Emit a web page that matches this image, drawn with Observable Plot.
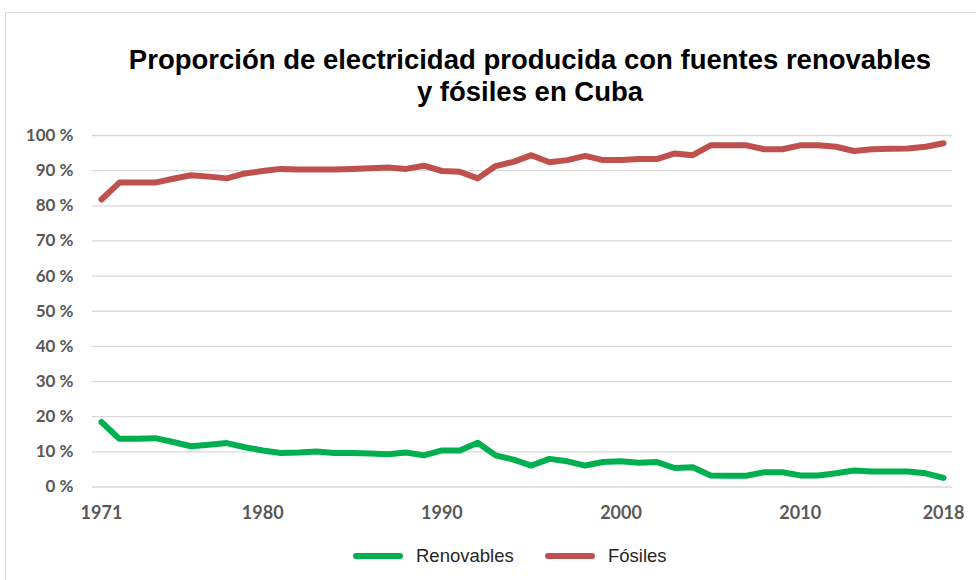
<!DOCTYPE html>
<html>
<head>
<meta charset="utf-8">
<script src="https://cdn.jsdelivr.net/npm/d3@7"></script>
<script src="https://cdn.jsdelivr.net/npm/@observablehq/plot@0.6"></script>
<style>
  html, body { margin: 0; padding: 0; background: #fff; }
  #wrap { position: relative; width: 976px; height: 580px; overflow: hidden; background: #fff; }
  #frame { position: absolute; left: 5px; top: 12px; width: 1000px; height: 1000px; border-top: 1px solid #d9d9d9; border-left: 1px solid #d9d9d9; }
  #title { position: absolute; left: 80px; width: 900px; top: 44px; text-align: center;
           font-family: "Liberation Sans", Arial, sans-serif; font-weight: bold; font-size: 27.5px; line-height: 32px; color: #000; }
  #chart { position: absolute; left: 0; top: 110px; }
  #legend { position: absolute; top: 544px; left: 0; width: 976px; height: 24px;
            font-family: "Liberation Sans", Arial, sans-serif; font-size: 18.5px; color: #262626; }
  .item { position: absolute; display: flex; align-items: center; height: 24px; }
  .sw { width: 50px; height: 6px; border-radius: 3px; margin-right: 13px; }
</style>
</head>
<body>
<div id="wrap">
  <div id="frame"></div>
  <div id="title">Proporción de electricidad producida con fuentes renovables<br>y fósiles en Cuba</div>
  <div id="chart"></div>
  <div id="legend"></div>
</div>
<script>
const years = d3.range(1971, 2019);
const fosiles = [81.8, 86.6, 86.6, 86.6, 87.7, 88.7, 88.3, 87.8, 89.2, 89.9,
                 90.5, 90.3, 90.3, 90.3, 90.5, 90.7, 90.9, 90.5, 91.4, 89.9,
                 89.7, 87.8, 91.3, 92.5, 94.4, 92.4, 93.0, 94.2, 93.0, 93.0,
                 93.3, 93.3, 94.9, 94.4, 97.2, 97.2, 97.2, 96.1, 96.1, 97.2,
                 97.2, 96.8, 95.6, 96.1, 96.2, 96.3, 96.8, 97.8];
const renovables = [18.5, 13.7, 13.7, 13.9, 12.8, 11.6, 12.0, 12.5, 11.3, 10.4,
                    9.7, 9.8, 10.1, 9.7, 9.7, 9.5, 9.3, 9.8, 9.0, 10.4,
                    10.4, 12.6, 9.0, 7.8, 6.1, 8.0, 7.3, 6.1, 7.1, 7.3,
                    6.9, 7.1, 5.4, 5.6, 3.3, 3.2, 3.2, 4.2, 4.2, 3.3,
                    3.3, 3.9, 4.7, 4.4, 4.4, 4.4, 3.9, 2.6];
const seriesNames = ["Renovables", "Fósiles"];
const seriesColors = ["#00B050", "#C0504D"];
const xTicks = [1971, 1980, 1990, 2000, 2010, 2018];
const yTicks = [0, 10, 20, 30, 40, 50, 60, 70, 80, 90, 100];

const data = [];
years.forEach((y, i) => {
  data.push({year: y, value: renovables[i], serie: seriesNames[0]});
  data.push({year: y, value: fosiles[i], serie: seriesNames[1]});
});

const chart = Plot.plot({
  width: 976,
  height: 420,
  marginLeft: 92,
  marginRight: 24,
  marginTop: 25,
  marginBottom: 43.5,
  style: {background: "transparent", overflow: "visible"},
  x: {domain: [1970.5, 2018.5]},
  y: {domain: [0, 100]},
  color: {domain: seriesNames, range: seriesColors},
  marks: [
    Plot.ruleY(yTicks, {stroke: "#d9d9d9", strokeWidth: 1.3}),
    Plot.axisY({ticks: yTicks, tickSize: 0, tickPadding: 19, tickFormat: d => d + " %",
      fontSize: 17, fontWeight: "bold", fill: "#595959", fontFamily: "Lato, 'Open Sans', sans-serif", label: null}),
    Plot.axisX({ticks: xTicks, tickSize: 0, tickPadding: 19, tickFormat: d => String(d),
      fontSize: 18, fontWeight: "bold", fill: "#595959", fontFamily: "Lato, 'Open Sans', sans-serif", label: null}),
    Plot.line(data, {x: "year", y: "value", z: "serie", stroke: "serie", strokeWidth: 6,
      strokeLinecap: "round", strokeLinejoin: "round"})
  ]
});
document.getElementById("chart").appendChild(chart);

const legend = document.getElementById("legend");
const lefts = [353, 545];
seriesNames.forEach((n, i) => {
  const it = document.createElement("div");
  it.className = "item";
  it.style.left = lefts[i] + "px";
  const sw = document.createElement("div");
  sw.className = "sw";
  sw.style.background = seriesColors[i];
  const tx = document.createElement("span");
  tx.textContent = n;
  it.appendChild(sw); it.appendChild(tx);
  legend.appendChild(it);
});
</script>
</body>
</html>
